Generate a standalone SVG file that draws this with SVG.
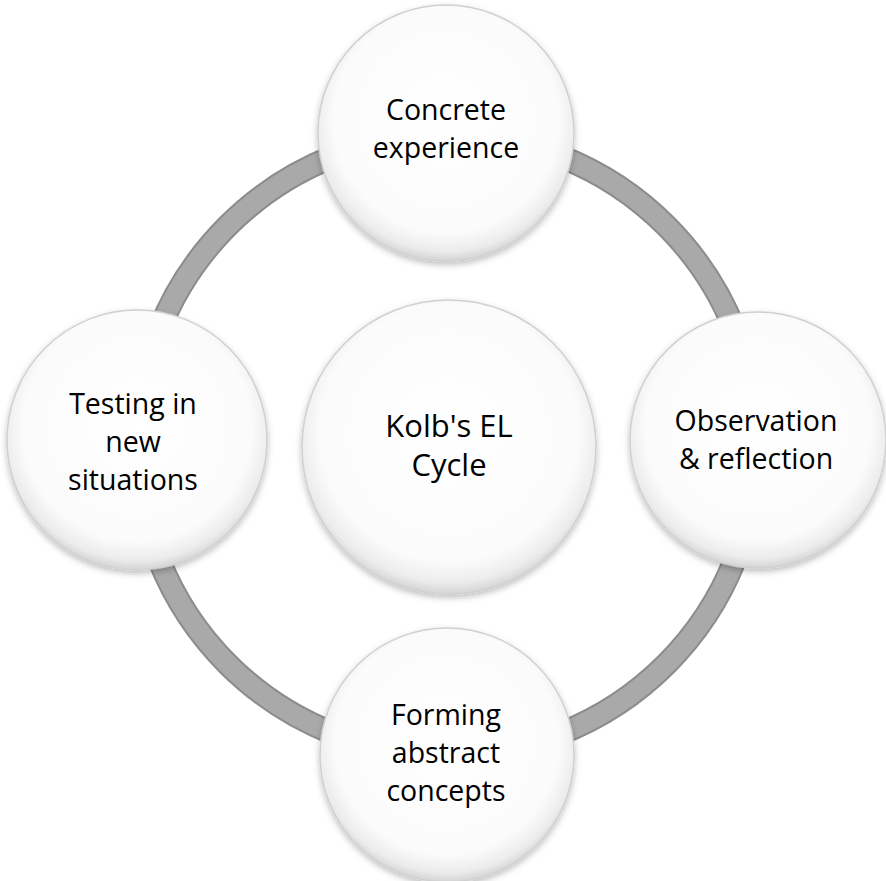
<svg xmlns="http://www.w3.org/2000/svg" width="886" height="881" viewBox="0 0 886 881">
<defs>
<radialGradient id="g" cx="50%" cy="45%" r="55%">
<stop offset="0" stop-color="#ffffff"/>
<stop offset="0.8" stop-color="#fbfbfb"/>
<stop offset="0.93" stop-color="#ececec"/>
<stop offset="1" stop-color="#d4d4d4"/>
</radialGradient>
<filter id="sh" x="-10%" y="-10%" width="120%" height="125%">
<feDropShadow dx="0" dy="3" stdDeviation="3" flood-color="#000" flood-opacity="0.25"/>
</filter>
<style>
.n{fill:url(#g);stroke:#d0d0d0;stroke-width:1.5;filter:url(#sh)}
.t{font-family:"Open Sans","Liberation Sans",sans-serif;font-size:28.5px;fill:#000;text-anchor:middle}
.c{font-size:31px}
</style>
</defs>
<rect width="886" height="881" fill="#fff"/>
<g id="connectors">
<circle cx="447" cy="445" r="310" fill="none" stroke="#8c8c8c" stroke-width="24"/>
<circle cx="447" cy="445" r="310" fill="none" stroke="#a9a9a9" stroke-width="20"/>
</g>
<g id="center"><circle class="n" cx="449" cy="447" r="147"/><text class="t c"><tspan x="449" y="437">Kolb's EL</tspan><tspan x="449" y="476">Cycle</tspan></text></g>
<g id="top"><circle class="n" cx="446" cy="133" r="128"/><text class="t"><tspan x="446" y="120">Concrete</tspan><tspan x="446" y="158">experience</tspan></text></g>
<g id="right"><circle class="n" cx="758" cy="440" r="128"/><text class="t"><tspan x="756" y="431">Observation</tspan><tspan x="756" y="469">&amp; reflection</tspan></text></g>
<g id="bottom"><circle class="n" cx="447" cy="755" r="127"/><text class="t"><tspan x="446" y="725">Forming</tspan><tspan x="446" y="763">abstract</tspan><tspan x="446" y="801">concepts</tspan></text></g>
<g id="left"><circle class="n" cx="137" cy="440" r="130"/><text class="t"><tspan x="133" y="414">Testing in</tspan><tspan x="133" y="452">new</tspan><tspan x="133" y="490">situations</tspan></text></g>
</svg>
